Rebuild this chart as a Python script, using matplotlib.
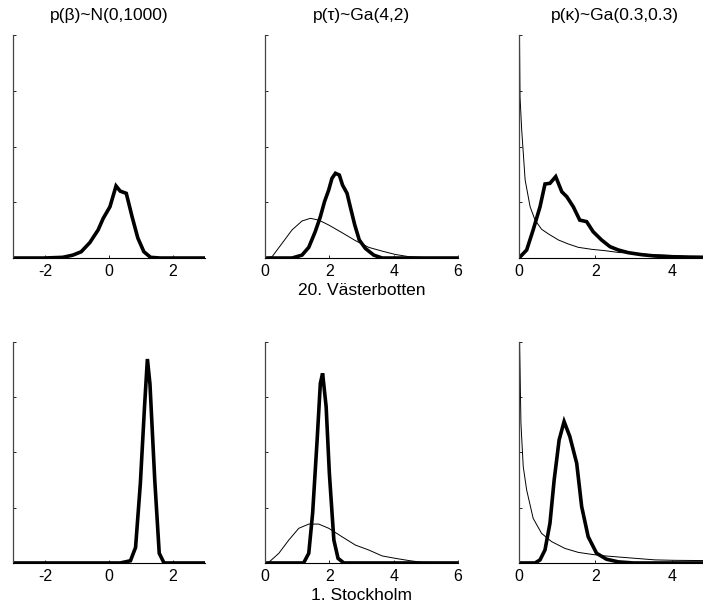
import numpy as np
import matplotlib.pyplot as plt

plt.rcParams['font.family'] = ['Liberation Sans', 'DejaVu Sans']
plt.rcParams['axes.unicode_minus'] = False

# column titles and row labels
titles = ["p(\u03b2)~N(0,1000)", "p(\u03c4)~Ga(4,2)", "p(\u03ba)~Ga(0.3,0.3)"]
row_labels = ["20. V\u00e4sterbotten", "1. Stockholm"]

# --- row 1 : 20. Vasterbotten (heights as fraction of axis height) ---
beta_x_1 = [-3, -2.03, -1.45, -1.13, -0.87, -0.6, -0.34, -0.18, 0.03, 0.22, 0.35, 0.54, 0.72, 0.9, 1.09, 1.3, 1.6, 3]
beta_y_1 = [0, 0, 0.003, 0.013, 0.028, 0.069, 0.126, 0.178, 0.23, 0.323, 0.30, 0.29, 0.186, 0.09, 0.028, 0.003, 0, 0]

tau_x_1 = [0, 0.84, 1.15, 1.36, 1.56, 1.72, 1.85, 1.98, 2.08, 2.19, 2.31, 2.41, 2.55, 2.65, 2.79, 2.93, 3.12, 3.38, 3.64, 6]
tau_y_1 = [0, 0, 0.013, 0.048, 0.118, 0.185, 0.253, 0.305, 0.357, 0.38, 0.372, 0.327, 0.29, 0.23, 0.148, 0.081, 0.043, 0.013, 0, 0]
tau_px_1 = [0, 0.22, 0.53, 0.84, 1.15, 1.41, 1.67, 1.98, 2.39, 2.81, 3.22, 3.64, 4.05, 4.47, 5.0, 6]
tau_py_1 = [0, 0.006, 0.066, 0.126, 0.166, 0.178, 0.17, 0.148, 0.114, 0.078, 0.048, 0.031, 0.016, 0.006, 0.002, 0]

kap_x_1 = [0, 0.2, 0.37, 0.55, 0.68, 0.81, 0.96, 1.12, 1.25, 1.42, 1.59, 1.77, 1.94, 2.16, 2.38, 2.6, 2.86, 3.21, 3.56, 3.9, 4.43, 5]
kap_y_1 = [0, 0.036, 0.126, 0.23, 0.332, 0.335, 0.365, 0.297, 0.275, 0.23, 0.17, 0.163, 0.118, 0.081, 0.051, 0.036, 0.024, 0.015, 0.009, 0.006, 0.003, 0.002]
kap_px_1 = [0.01, 0.026, 0.07, 0.16, 0.29, 0.42, 0.59, 0.77, 1.03, 1.29, 1.55, 1.9, 2.25, 2.6, 2.95, 3.38, 3.82, 4.43, 5]
kap_py_1 = [1.05, 0.723, 0.574, 0.35, 0.23, 0.17, 0.129, 0.108, 0.081, 0.063, 0.048, 0.039, 0.033, 0.025, 0.021, 0.016, 0.013, 0.009, 0.008]

# --- row 2 : 1. Stockholm ---
beta_x_2 = [-3, 0.35, 0.67, 0.83, 0.98, 1.11, 1.2, 1.28, 1.43, 1.57, 1.72, 3]
beta_y_2 = [0, 0, 0.01, 0.07, 0.36, 0.707, 0.923, 0.81, 0.375, 0.044, 0, 0]

tau_x_2 = [0, 1.2, 1.36, 1.48, 1.62, 1.72, 1.79, 1.9, 2.0, 2.14, 2.27, 2.45, 6]
tau_y_2 = [0, 0, 0.044, 0.225, 0.557, 0.813, 0.858, 0.707, 0.406, 0.104, 0.021, 0, 0]
tau_px_2 = [0, 0.11, 0.43, 0.74, 1.05, 1.36, 1.67, 1.98, 2.39, 2.81, 3.22, 3.64, 4.05, 4.47, 4.88, 6]
tau_py_2 = [0, 0.002, 0.044, 0.104, 0.157, 0.176, 0.176, 0.157, 0.119, 0.081, 0.059, 0.032, 0.021, 0.011, 0.003, 0]

kap_x_2 = [0, 0.42, 0.55, 0.68, 0.81, 0.92, 1.05, 1.18, 1.33, 1.51, 1.64, 1.81, 2.03, 2.29, 2.6, 3.0, 5]
kap_y_2 = [0, 0, 0.014, 0.059, 0.18, 0.376, 0.557, 0.64, 0.572, 0.451, 0.255, 0.119, 0.044, 0.017, 0.005, 0, 0]
kap_px_2 = [0.01, 0.05, 0.11, 0.2, 0.37, 0.59, 0.85, 1.2, 1.55, 1.9, 2.25, 2.68, 3.12, 3.56, 4.08, 4.78, 5]
kap_py_2 = [1.05, 0.632, 0.436, 0.33, 0.202, 0.134, 0.097, 0.066, 0.048, 0.039, 0.032, 0.026, 0.02, 0.014, 0.012, 0.011, 0.011]

fig = plt.figure(figsize=(7.03, 6.12), dpi=100)

# axes positions [left, bottom, width, height] in figure fraction
lefts = [0.0185, 0.377, 0.7383]
widths = [0.2731, 0.2745, 0.2717]
bottoms = [0.5784, 0.0801]
heights = [0.3644, 0.3611]
xlims = [(-3, 3), (0, 6), (0, 5)]
xticks = [[-2, 0, 2], [0, 2, 4, 6], [0, 2, 4]]

rows = [
    [(beta_x_1, beta_y_1, None, None), (tau_x_1, tau_y_1, tau_px_1, tau_py_1), (kap_x_1, kap_y_1, kap_px_1, kap_py_1)],
    [(beta_x_2, beta_y_2, None, None), (tau_x_2, tau_y_2, tau_px_2, tau_py_2), (kap_x_2, kap_y_2, kap_px_2, kap_py_2)],
]

for r in range(2):
    for c in range(3):
        ax = fig.add_axes([lefts[c], bottoms[r], widths[c], heights[r]])
        px, py, prx, pry = rows[r][c]
        if prx is not None:
            ax.plot(prx, pry, color='black', lw=0.7)
        ax.plot(px, py, color='black', lw=2.6, solid_joinstyle='miter')
        ax.set_xlim(*xlims[c])
        ax.set_ylim(0, 1)
        ax.set_xticks(xticks[c])
        ax.set_yticks([0, 0.25, 0.5, 0.75, 1])
        ax.set_yticklabels([])
        ax.tick_params(direction='in', length=2.5, width=0.6, labelsize=11.5, pad=4)
        ax.spines['top'].set_visible(False)
        ax.spines['right'].set_visible(False)
        ax.spines['left'].set_color('#444444')
        ax.spines['left'].set_linewidth(0.9)
        ax.spines['bottom'].set_linewidth(0.8)
        if r == 0:
            ax.set_title(titles[c], fontsize=12.5, pad=11)
        if c == 1:
            ax.set_xlabel(row_labels[r], fontsize=12.5, labelpad=3)

plt.savefig('out.png', dpi=100)
